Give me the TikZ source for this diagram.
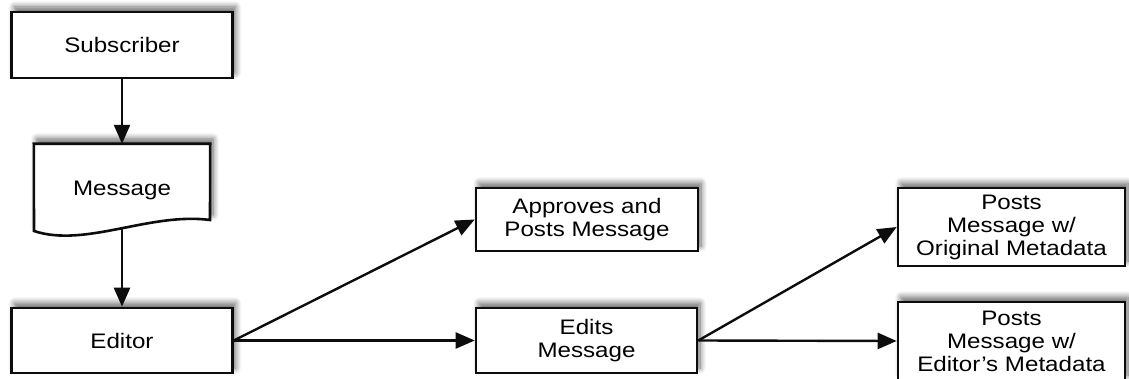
\documentclass[tikz,border=0pt]{standalone}
\usepackage{fontspec}
\setmainfont{Liberation Sans}[FakeStretch=1.15]
\usetikzlibrary{arrows.meta,shadows.blur}

\newlength{\du}
\setlength{\du}{1pt}

\definecolor{boxlinecolor}{rgb}{0.050000, 0.050000, 0.050000}
\definecolor{boxfillcolor}{rgb}{1.000000, 1.000000, 1.000000}

\tikzset{
  flowbox/.style={draw=boxlinecolor, fill=boxfillcolor, line width=2.6\du,
    align=center, inner sep=0pt,
    blur shadow={shadow xshift=3pt, shadow yshift=5pt, shadow blur steps=10,
      shadow blur radius=6pt, shadow opacity=60}},
  flowarrow/.style={draw=boxlinecolor, line width=2.4\du,
    -{Triangle[length=19pt,width=16pt]}},
}

\begin{document}
\begin{tikzpicture}[font=\fontsize{21}{23}\selectfont]
\pgftransformxscale{1.000000}
\pgftransformyscale{-1.000000}
\useasboundingbox (0\du,0\du) rectangle (1129\du,379\du);

% left column
\node[flowbox, minimum width=221\du, minimum height=66\du] (subscriber) at (122\du,45\du){Subscriber};
\coordinate (msgwaveR) at (210\du,220\du);
\coordinate (msgwaveL) at (34\du,231\du);
\node[minimum width=176\du, minimum height=84\du, inner sep=0pt] (msg) at (122\du,186\du){};
\draw[flowbox] (msg.north west) -- (msg.north east) -- (msgwaveR)
  .. controls (150\du,212\du) and (85\du,248\du) .. (msgwaveL) -- cycle;
\node at (122\du,190\du){Message};
\node[flowbox, minimum width=221\du, minimum height=65\du] (editor) at (122\du,340.5\du){Editor};

% middle column
\node[flowbox, minimum width=222\du, minimum height=63\du] (approve) at (587\du,219.5\du){Approves and\\Posts Message};
\node[flowbox, minimum width=221\du, minimum height=65\du] (edits) at (586.5\du,340.5\du){Edits\\Message};

% right column
\node[flowbox, minimum width=227\du, minimum height=78\du] (postorig) at (1011.5\du,227\du){Posts\\Message w/\\Original Metadata};
\node[flowbox, minimum width=227\du, minimum height=78\du] (postedit) at (1011.5\du,341\du){Posts\\Message w/\\Editor's Metadata};

\draw[flowarrow] (subscriber) -- (msg);
\draw[flowarrow] (msg.south) -- (editor);
\draw[flowarrow] (editor.east) -- (approve.west);
\draw[flowarrow] (editor.east) -- (edits.west);
\draw[flowarrow] (edits.east) -- (postorig.west);
\draw[flowarrow] (edits.east) -- (postedit.west);
\end{tikzpicture}
\end{document}
